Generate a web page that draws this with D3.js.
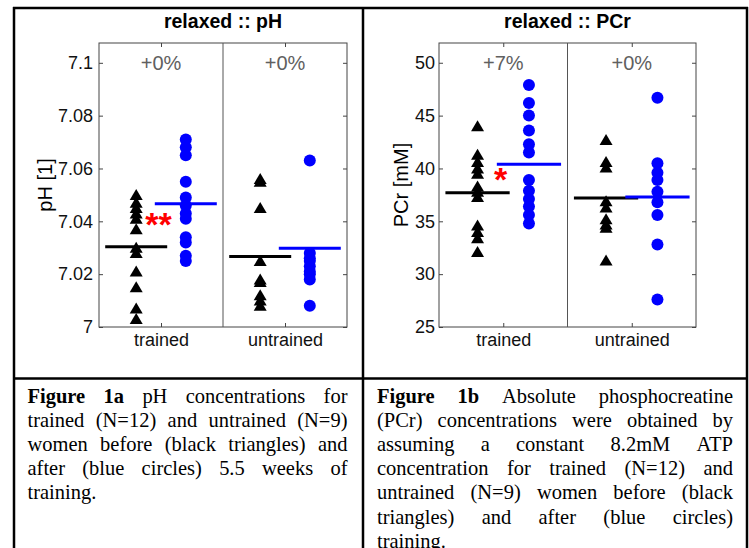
<!DOCTYPE html>
<html>
<head>
<meta charset="utf-8">
<script src="https://cdn.jsdelivr.net/npm/d3@7"></script>
<style>
body { margin: 0; background: #fff; }
svg { display: block; }
</style>
</head>
<body>
<div id="figure"></div>
<script>
// groups on the x axis
var groups = ["trained", "untrained"];

// pH before (triangles) and after (circles) training
var phPreTrained = [7.050, 7.047, 7.045, 7.043, 7.041, 7.037, 7.030, 7.028, 7.021, 7.015, 7.007, 7.003];
var phPostTrained = [7.071, 7.068, 7.065, 7.055, 7.049, 7.046, 7.043, 7.041, 7.034, 7.032, 7.027, 7.025];
var phPreUntrained = [7.056, 7.055, 7.045, 7.025, 7.018, 7.017, 7.012, 7.010, 7.008];
var phPostUntrained = [7.063, 7.028, 7.026, 7.025, 7.023, 7.021, 7.020, 7.018, 7.008];
var phMeanPre = [7.0304, 7.0267];
var phMeanPost = [7.0467, 7.0298];
var phChange = ["+0%", "+0%"];
var phTicks = [7, 7.02, 7.04, 7.06, 7.08, 7.1];
var phTickLabels = ["7", "7.02", "7.04", "7.06", "7.08", "7.1"];
var phDomain = [7, 7.1075];
var phStar = "**", phStarValue = 7.0415;

// PCr before / after
var pcrPreTrained = [44.0, 41.3, 40.6, 40.0, 39.5, 38.3, 37.8, 37.3, 34.6, 34.0, 33.4, 32.1];
var pcrPostTrained = [47.9, 46.2, 45.0, 43.6, 42.3, 41.5, 38.9, 37.9, 37.1, 36.4, 35.6, 34.8];
var pcrPreUntrained = [42.7, 40.6, 40.1, 36.9, 36.3, 35.2, 34.7, 34.4, 31.3];
var pcrPostUntrained = [46.7, 40.5, 39.6, 38.9, 37.8, 36.8, 35.6, 32.8, 27.6];
var pcrMeanPre = [37.7, 37.2];
var pcrMeanPost = [40.4, 37.3];
var pcrChange = ["+7%", "+0%"];
var pcrTicks = [25, 30, 35, 40, 45, 50];
var pcrTickLabels = ["25", "30", "35", "40", "45", "50"];
var pcrDomain = [25, 51.87];
var pcrStar = "*", pcrStarValue = 39.65;

// captions (first two words of line one are bold)
var captionA = [
  "Figure 1a pH concentrations for",
  "trained (N=12) and untrained (N=9)",
  "women before (black triangles) and",
  "after (blue circles) 5.5 weeks of",
  "training."
];
var captionB = [
  "Figure 1b Absolute phosphocreatine",
  "(PCr) concentrations were obtained by",
  "assuming a constant 8.2mM ATP",
  "concentration for trained (N=12) and",
  "untrained (N=9) women before (black",
  "triangles) and after (blue circles)",
  "training."
];

var W = 749, H = 548;
var sans = "'Liberation Sans', Arial, sans-serif";
var serif = "'Liberation Serif', 'Times New Roman', serif";

var svg = d3.select("#figure")
  .append("svg")
    .attr("width", W)
    .attr("height", H);

svg.append("rect").attr("width", W).attr("height", H).attr("fill", "#fff");

// table frame
var frame = svg.append("g").attr("stroke", "#000").attr("stroke-width", 2.5);
frame.append("line").attr("x1", 13).attr("x2", 748).attr("y1", 8).attr("y2", 8);
frame.append("line").attr("x1", 13).attr("x2", 748).attr("y1", 378.5).attr("y2", 378.5);
[14, 363, 747].forEach(function(xx) {
  frame.append("line").attr("x1", xx).attr("x2", xx).attr("y1", 7).attr("y2", H);
});

var panels = [
  { title: "relaxed :: pH", ylabel: "pH [1]", left: 99, right: 347, domain: phDomain,
    ticks: phTicks, tickLabels: phTickLabels, gap: 6, labelX: 52,
    pre: [phPreTrained, phPreUntrained], post: [phPostTrained, phPostUntrained],
    meanPre: phMeanPre, meanPost: phMeanPost, change: phChange,
    star: phStar, starValue: phStarValue },
  { title: "relaxed :: PCr", ylabel: "PCr [mM]", left: 439, right: 696, domain: pcrDomain,
    ticks: pcrTicks, tickLabels: pcrTickLabels, gap: 4, labelX: 408,
    pre: [pcrPreTrained, pcrPreUntrained], post: [pcrPostTrained, pcrPostUntrained],
    meanPre: pcrMeanPre, meanPost: pcrMeanPost, change: pcrChange,
    star: pcrStar, starValue: pcrStarValue }
];

var plotTop = 43, plotBottom = 327;
var tri = "M0,-6L6.5,5L-6.5,5Z";

panels.forEach(function(p) {
  var g = svg.append("g");
  var x = d3.scaleLinear().domain([0.5, 2.5]).range([p.left, p.right]);
  var y = d3.scaleLinear().domain(p.domain).range([plotBottom, plotTop]);

  // axes, ticks pointing inward
  g.append("g")
      .attr("transform", "translate(" + p.left + ",0)")
      .call(d3.axisLeft(y).tickValues(p.ticks)
        .tickFormat(function(d, i) { return p.tickLabels[i]; })
        .tickSize(-4).tickPadding(p.gap));
  g.append("g")
      .attr("transform", "translate(" + p.right + ",0)")
      .call(d3.axisRight(y).tickValues(p.ticks).tickFormat("").tickSize(-4));
  g.append("g")
      .attr("transform", "translate(0," + plotBottom + ")")
      .call(d3.axisBottom(x).tickValues([1, 2])
        .tickFormat(function(d) { return groups[d - 1]; })
        .tickSize(-4).tickPadding(6));
  g.append("g")
      .attr("transform", "translate(0," + plotTop + ")")
      .call(d3.axisTop(x).tickValues([1, 2]).tickFormat("").tickSize(-4));
  g.selectAll(".domain").remove();
  g.selectAll(".tick line").attr("stroke", "#444");
  g.selectAll(".tick text")
      .attr("fill", "#111")
      .style("font-family", sans)
      .style("font-size", "18px");

  // frame and divider between groups
  g.append("rect")
      .attr("x", p.left).attr("y", plotTop)
      .attr("width", p.right - p.left).attr("height", plotBottom - plotTop)
      .attr("fill", "none").attr("stroke", "#444").attr("stroke-width", 1);
  g.append("line")
      .attr("x1", x(1.5)).attr("x2", x(1.5))
      .attr("y1", plotTop).attr("y2", plotBottom)
      .attr("stroke", "#555").attr("stroke-width", 1);

  groups.forEach(function(name, i) {
    var xPre = i + 1 - 0.2, xPost = i + 1 + 0.2;

    g.append("g").selectAll("path")
      .data(p.pre[i])
      .enter().append("path")
        .attr("d", tri)
        .attr("transform", function(d) { return "translate(" + x(xPre) + "," + y(d) + ")"; })
        .attr("fill", "#000");

    g.append("line")
      .attr("x1", x(xPre - 0.25)).attr("x2", x(xPre + 0.25))
      .attr("y1", y(p.meanPre[i])).attr("y2", y(p.meanPre[i]))
      .attr("stroke", "#000").attr("stroke-width", 3);

    g.append("g").selectAll("circle")
      .data(p.post[i])
      .enter().append("circle")
        .attr("cx", x(xPost))
        .attr("cy", function(d) { return y(d); })
        .attr("r", 6)
        .attr("fill", "#0000ff");

    g.append("line")
      .attr("x1", x(xPost - 0.25)).attr("x2", x(xPost + 0.25))
      .attr("y1", y(p.meanPost[i])).attr("y2", y(p.meanPost[i]))
      .attr("stroke", "#0000ff").attr("stroke-width", 3);

    // percent change
    g.append("text")
      .attr("x", x(i + 1))
      .attr("y", y(p.ticks[p.ticks.length - 1]))
      .attr("dy", "0.35em")
      .attr("text-anchor", "middle")
      .attr("fill", "#606060")
      .style("font-family", sans)
      .style("font-size", "20px")
      .text(p.change[i]);
  });

  // significance marker
  g.append("text")
    .attr("x", x(0.98))
    .attr("y", y(p.starValue) + 19)
    .attr("text-anchor", "middle")
    .attr("fill", "#ff0000")
    .style("font-family", sans)
    .style("font-weight", "bold")
    .style("font-size", "34px")
    .text(p.star);

  // title and y label
  g.append("text")
    .attr("x", (p.left + p.right) / 2)
    .attr("y", 27.5)
    .attr("text-anchor", "middle")
    .style("font-family", sans)
    .style("font-weight", "bold")
    .style("font-size", "19.5px")
    .text(p.title);

  g.append("text")
    .attr("transform", "translate(" + p.labelX + "," + ((plotTop + plotBottom) / 2) + ") rotate(-90)")
    .attr("text-anchor", "middle")
    .style("font-family", sans)
    .style("font-size", "20px")
    .text(p.ylabel);
});

// justified captions, slightly tall letters as in the scan
function caption(lines, x0, x1, y0) {
  var g = svg.append("g")
    .style("font-family", serif)
    .style("font-size", "20.5px")
    .attr("fill", "#000");
  lines.forEach(function(line, li) {
    var row = g.append("g")
      .attr("transform", "translate(0," + (y0 + li * 24.1) + ") scale(1,1.05)");
    var words = line.split(" ");
    var nodes = words.map(function(w, wi) {
      return row.append("text")
        .attr("y", 0)
        .style("font-weight", (li === 0 && wi < 2) ? "bold" : "normal")
        .text(w);
    });
    var widths = nodes.map(function(n) { return n.node().getComputedTextLength(); });
    var total = d3.sum(widths);
    var last = li === lines.length - 1;
    var space = (last || words.length < 2) ? 5 : (x1 - x0 - total) / (words.length - 1);
    var cx = x0;
    nodes.forEach(function(n, i) {
      n.attr("x", cx);
      cx += widths[i] + space;
    });
  });
}

caption(captionA, 27.5, 347.5, 403);
caption(captionB, 377, 733, 403);
</script>
</body>
</html>
